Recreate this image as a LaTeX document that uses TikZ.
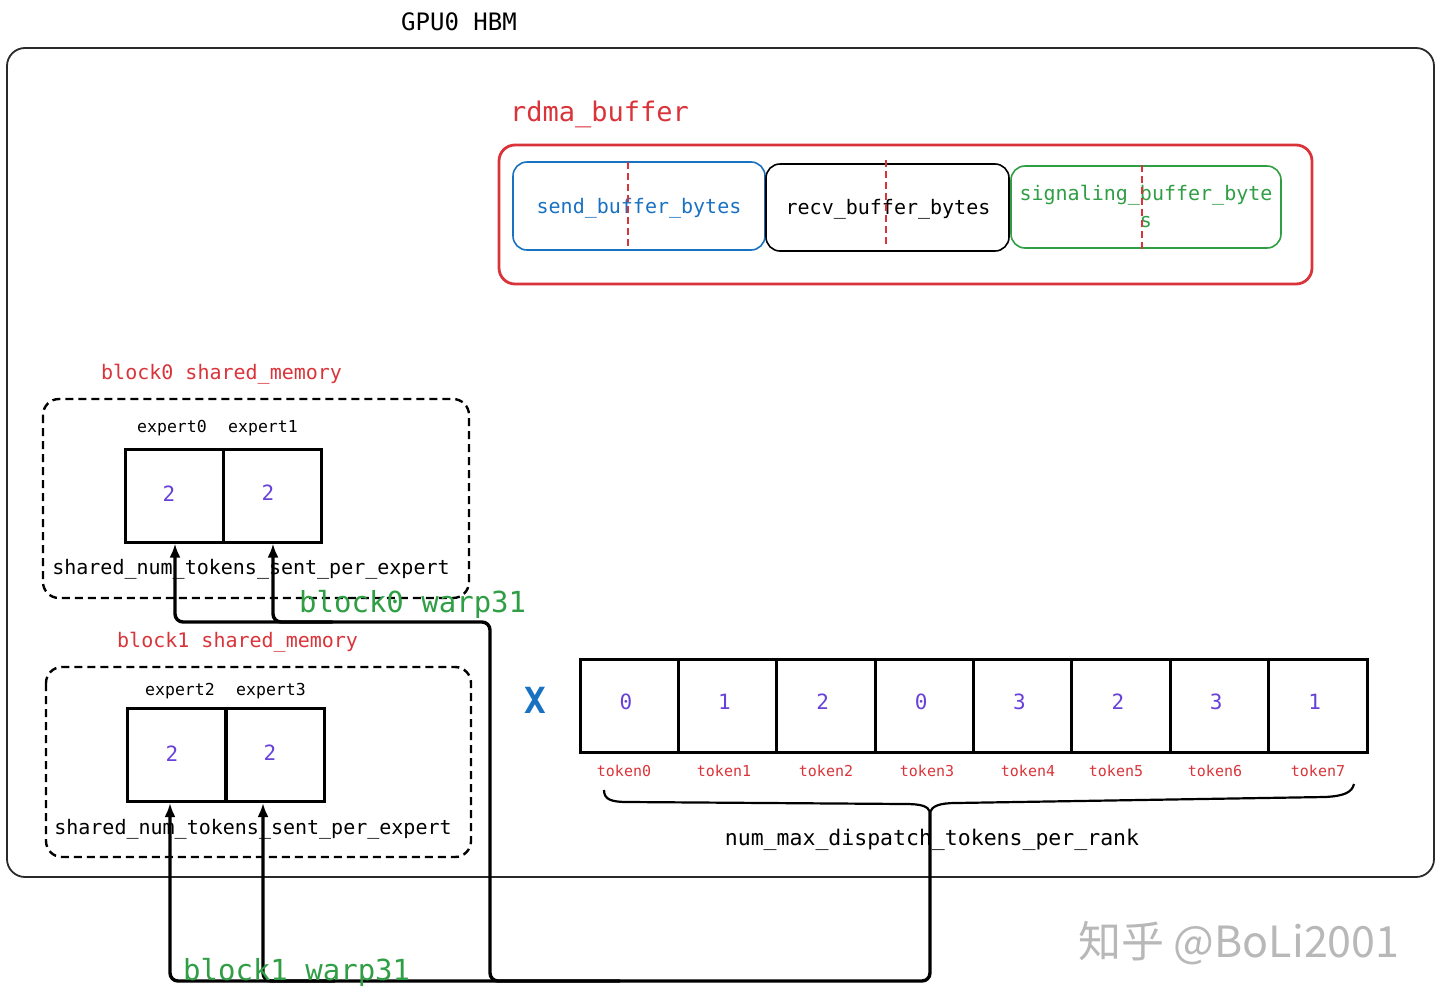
\documentclass[tikz,border=0pt]{standalone}
\usepackage{fontspec}
\setmainfont{DejaVu Sans Mono}
\newfontfamily\cjkfont{Noto Sans CJK SC}
\usetikzlibrary{arrows.meta}
\definecolor{xred}{HTML}{D9343A}
\definecolor{xblue}{HTML}{1971C2}
\definecolor{xgreen}{HTML}{2F9E44}
\definecolor{xpurple}{HTML}{6741D9}
\definecolor{xframe}{HTML}{2A2A2A}
\definecolor{xwm}{HTML}{B8B8B8}
\begin{document}
\begin{tikzpicture}[x=1pt,y=-1pt,
  txt/.style={inner sep=0pt, anchor=base},
  f20/.style={font=\fontsize{20}{24}\selectfont},
  f16/.style={font=\fontsize{16.5}{20}\selectfont},
  f15/.style={font=\fontsize{15}{18}\selectfont},
  cell/.style={draw=black, line width=3pt, minimum width=98pt, minimum height=93pt, inner sep=0pt},
  tcell/.style={draw=black, line width=3pt, minimum width=98.4pt, minimum height=93pt, inner sep=0pt},
  buf/.style={line width=1.6pt, rounded corners=14pt, inner sep=0pt},
  dbox/.style={draw=black, line width=2.4pt, dash pattern=on 8pt off 5pt, rounded corners=16pt},
  rdash/.style={draw=xred, line width=2.2pt, dash pattern=on 7pt off 4pt},
  conn/.style={draw=black, line width=3.4pt, rounded corners=8pt},
  arr/.style={-{Latex[length=14pt,width=11pt]}},
  num/.style={txt, font=\fontsize{21}{24}\selectfont, text=xpurple},
  tok/.style={txt, f15, text=xred}
]
\useasboundingbox (0,0) rectangle (1440,999);

% outer frame
\draw[xframe, line width=1.8pt, rounded corners=18pt] (7,48) rectangle (1434,877);
\node[txt, font=\fontsize{24}{28}\selectfont] (hbm) at (459,30) {GPU0 HBM};

% rdma buffer
\node[txt, font=\fontsize{27}{32}\selectfont, text=xred, anchor=base west] (rdmalbl) at (510,121) {rdma\_buffer};
\draw[xred, line width=2.8pt, rounded corners=16pt] (499,145) rectangle (1312,284);
\node[buf, draw=xblue, minimum width=252pt, minimum height=88pt] (sendb) at (639,206) {};
\node[buf, draw=black, minimum width=243pt, minimum height=87pt] (recvb) at (887.5,207.5) {};
\node[buf, draw=xgreen, minimum width=270pt, minimum height=82pt] (sigb) at (1146,207) {};
\node[txt, f20, text=xblue] (sendt) at (639,213) {send\_buffer\_bytes};
\node[txt, f20] (recvt) at (888,214) {recv\_buffer\_bytes};
\node[txt, f20, text=xgreen] (sigt1) at (1146,200) {signaling\_buffer\_byte};
\node[txt, f20, text=xgreen] (sigt2) at (1146,227) {s};
\draw[rdash] (628,162) -- (628,248);
\draw[rdash] (886,160) -- (886,246);
\draw[rdash] (1142,165) -- (1142,249);

% block0
\node[txt, f20, text=xred, anchor=base west] (b0lbl) at (101,379) {block0 shared\_memory};
\draw[dbox] (43,399) rectangle (469,598);
\node[txt, f16] (ex0) at (172,432) {expert0};
\node[txt, f16] (ex1) at (263,432) {expert1};
\node[cell] (e0) at (174,495.5) {};
\node[cell] (e1) at (272.5,495.5) {};
\node[num] (n0) at (169,501) {2};
\node[num] (n1) at (268,500) {2};
\node[txt, f20] (sh0) at (251,574) {shared\_num\_tokens\_sent\_per\_expert};

% block1
\node[txt, f20, text=xred, anchor=base west] (b1lbl) at (117,647) {block1 shared\_memory};
\draw[dbox] (46,667) rectangle (471,857);
\node[txt, f16] (ex2) at (180,695) {expert2};
\node[txt, f16] (ex3) at (271,695) {expert3};
\node[cell] (e2) at (176.5,755) {};
\node[cell] (e3) at (275,755) {};
\node[num] (n2) at (172,761) {2};
\node[num] (n3) at (270,760) {2};
\node[txt, f20] (sh1) at (253,834) {shared\_num\_tokens\_sent\_per\_expert};

% tokens
\node[txt, font=\fontsize{36}{36}\bfseries\selectfont, text=xblue] (times) at (535,713) {X};
\foreach \i/\v/\lx in {0/0/624,1/1/724,2/2/826,3/0/927,4/3/1028,5/2/1116,6/3/1215,7/1/1318}{
  \node[tcell] (t\i) at ({629.2+98.375*\i},705.5) {};
  \node[num] (tv\i) at ({626+98.375*\i},709) {\v};
  \node[tok] (tl\i) at (\lx,776) {token\i};
}
% brace
\coordinate (brt) at (930,812);
\draw[black, line width=2.2pt] (604,790) .. controls (604,800) and (612,802) .. (628,802) -- (905,804) .. controls (921,804) and (928,806) .. (brt) .. controls (932,806) and (940,803) .. (956,803) -- (1325,797) .. controls (1345,796) and (1352,792) .. (1354,784);
\node[txt, font=\fontsize{21.5}{26}\selectfont] (nmax) at (932,845) {num\_max\_dispatch\_tokens\_per\_rank};

% connectors
\coordinate (bus) at (0,981);
\coordinate (hub0) at (0,622);
\draw[conn, arr] (brt) |- ([xshift=-6.5pt]e2.south |- bus) -- ([xshift=-6.5pt]e2.south);
\draw[conn, arr] ([xshift=60pt]e3.south |- bus) -| ([xshift=-12pt]e3.south);
\draw[conn, arr] (620,981) -| (490,622) -| ([xshift=1pt]e0.south);
\draw[conn, arr] ([xshift=60pt]e1.south |- hub0) -| ([xshift=0.5pt]e1.south);

\node[txt, font=\fontsize{29}{34}\selectfont, text=xgreen, anchor=base west] (w0) at (299,612) {block0 warp31};
\node[txt, font=\fontsize{29}{34}\selectfont, text=xgreen, anchor=base west] (w1) at (183,980) {block1 warp31};

% watermark
\node[txt, font=\cjkfont\fontsize{43}{46}\selectfont, text=xwm, anchor=base west] (wm) at (1078,957) {知乎 @BoLi2001};
\end{tikzpicture}
\end{document}
